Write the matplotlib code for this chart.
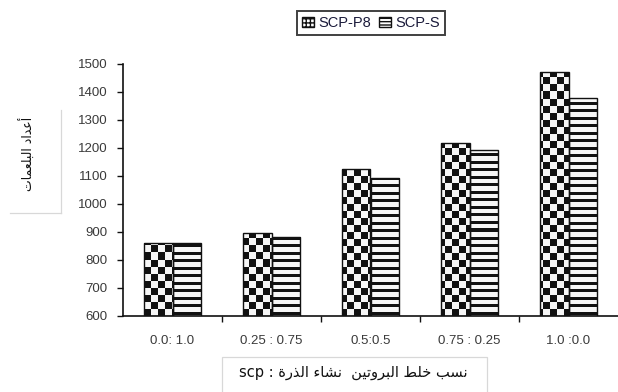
import numpy as np
import matplotlib
matplotlib.use("Agg")
import matplotlib.pyplot as plt
from matplotlib.colors import ListedColormap
from matplotlib.patches import Patch, Rectangle
from matplotlib.lines import Line2D

# ---------------- data ----------------
categories = ['0.0: 1.0', '0.25 : 0.75', '0.5:0.5', '0.75 : 0.25', '1.0 :0.0']
scp_p8 = [862, 897, 1125, 1217, 1473]
scp_s = [860, 881, 1092, 1193, 1378]
series_names = ['SCP-P8', 'SCP-S']
y_ticks = [600, 700, 800, 900, 1000, 1100, 1200, 1300, 1400, 1500]
y_label_ar = 'أعداد البلعمات'
x_label_ar = 'نسب خلط البروتين  نشاء الذرة'
x_label_latin = 'scp'

# ---------------- minimal Arabic shaping (presentation forms) ----------------
FORMS = {
    'ء': ('\uFE80', None, None, None),
    'أ': ('\uFE83', '\uFE84', None, None),
    'ا': ('\uFE8D', '\uFE8E', None, None),
    'ب': ('\uFE8F', '\uFE90', '\uFE91', '\uFE92'),
    'ة': ('\uFE93', '\uFE94', None, None),
    'ت': ('\uFE95', '\uFE96', '\uFE97', '\uFE98'),
    'خ': ('\uFEA5', '\uFEA6', '\uFEA7', '\uFEA8'),
    'د': ('\uFEA9', '\uFEAA', None, None),
    'ذ': ('\uFEAB', '\uFEAC', None, None),
    'ر': ('\uFEAD', '\uFEAE', None, None),
    'س': ('\uFEB1', '\uFEB2', '\uFEB3', '\uFEB4'),
    'ش': ('\uFEB5', '\uFEB6', '\uFEB7', '\uFEB8'),
    'ط': ('\uFEC1', '\uFEC2', '\uFEC3', '\uFEC4'),
    'ع': ('\uFEC9', '\uFECA', '\uFECB', '\uFECC'),
    'ل': ('\uFEDD', '\uFEDE', '\uFEDF', '\uFEE0'),
    'م': ('\uFEE1', '\uFEE2', '\uFEE3', '\uFEE4'),
    'ن': ('\uFEE5', '\uFEE6', '\uFEE7', '\uFEE8'),
    'و': ('\uFEED', '\uFEEE', None, None),
    'ي': ('\uFEF1', '\uFEF2', '\uFEF3', '\uFEF4'),
}


def shape_rtl(text):
    out = []
    n = len(text)
    for i, ch in enumerate(text):
        if ch not in FORMS:
            out.append(ch)
            continue
        f = FORMS[ch]
        prev = text[i - 1] if i > 0 else None
        nxt = text[i + 1] if i < n - 1 else None
        jp = prev in FORMS and FORMS[prev][2] is not None and f[1] is not None
        jn = f[2] is not None and nxt in FORMS and FORMS[nxt][1] is not None
        if jp and jn:
            out.append(f[3])
        elif jp:
            out.append(f[1])
        elif jn:
            out.append(f[2])
        else:
            out.append(f[0])
    return ''.join(out)[::-1]


# ---------------- figure ----------------
W, H = 618, 392
fig = plt.figure(figsize=(W / 100, H / 100), dpi=100)
ax_l, ax_r, ax_t, ax_b = 123, 618, 64, 316
ax = fig.add_axes([ax_l / W, 1 - ax_b / H, (ax_r - ax_l) / W, (ax_b - ax_t) / H])

tick_font = 'Liberation Sans'
x = np.arange(len(categories))
bw = 0.29
ymin, ymax = y_ticks[0], y_ticks[-1]
xlo, xhi = -0.5, len(categories) - 0.5

pw, ph = ax_r - ax_l, ax_b - ax_t
rr, cc = np.mgrid[0:ph, 0:pw]
checker = (((rr // 7) + (cc // 7)) % 2).astype(float)
stripes = ((rr % 7.5) >= 3).astype(float)
cmap = ListedColormap(['#111111', '#f6f6f6'])

bars1 = ax.bar(x - bw / 2, np.array(scp_p8) - ymin, bw, bottom=ymin,
               facecolor='none', edgecolor='#111111', linewidth=1.0, zorder=3)
bars2 = ax.bar(x + bw / 2, np.array(scp_s) - ymin, bw, bottom=ymin,
               facecolor='none', edgecolor='#111111', linewidth=1.0, zorder=3)
for bars, pat in ((bars1, checker), (bars2, stripes)):
    for b in bars:
        im = ax.imshow(pat, cmap=cmap, vmin=0, vmax=1, extent=(xlo, xhi, ymin, ymax),
                       aspect='auto', interpolation='nearest', zorder=2)
        im.set_clip_path(b)

ax.set_xlim(xlo, xhi)
ax.set_ylim(ymin, ymax)
ax.spines['top'].set_visible(False)
ax.spines['right'].set_visible(False)
for s in ('left', 'bottom'):
    ax.spines[s].set_linewidth(1.2)
    ax.spines[s].set_color('#111111')

lab_col = '#3a3a3a'
ax.set_yticks(y_ticks)
ax.set_yticklabels([str(v) for v in y_ticks], fontfamily=tick_font, fontsize=9.5,
                   color=lab_col)
ax.tick_params(axis='y', length=4, width=1, pad=7, colors='#111111', labelcolor=lab_col)

ax.set_xticks(x)
ax.set_xticklabels(categories, fontfamily=tick_font, fontsize=9.5, color=lab_col)
ax.set_xticks(np.arange(0.5, len(categories) - 0.5, 1), minor=True)
ax.tick_params(axis='x', which='major', length=0, pad=14, labelcolor=lab_col)
ax.tick_params(axis='x', which='minor', length=4, width=1, colors='#111111')

# legend
handles = [Patch(facecolor='white', edgecolor='#111111', hatch='++++', label=series_names[0]),
           Patch(facecolor='white', edgecolor='#111111', hatch='-----', label=series_names[1])]
leg = fig.legend(handles=handles, loc='center', bbox_to_anchor=(371 / W, 1 - 23 / H),
                 ncol=2, frameon=True, fancybox=False, handlelength=0.8,
                 handleheight=0.7, handletextpad=0.3, columnspacing=0.6,
                 borderpad=0.35, prop={'family': tick_font, 'size': 10.5})
for t in leg.get_texts():
    t.set_color('#1a1a3a')
leg.get_frame().set_edgecolor('#111111')
leg.get_frame().set_linewidth(1.4)

# y label with partial box
fig.text(28 / W, 1 - 154 / H, shape_rtl(y_label_ar), rotation=90, ha='center',
         va='center', fontfamily='DejaVu Sans', fontsize=9, color='#111111')
fig.add_artist(Line2D([61 / W, 61 / W], [1 - 110 / H, 1 - 213 / H], color='#d8d8d8', lw=0.9))
fig.add_artist(Line2D([10 / W, 61 / W], [1 - 213 / H, 1 - 213 / H], color='#d8d8d8', lw=0.9))

# x label with box
fig.add_artist(Rectangle((222 / W, -0.02), (487 - 222) / W, 0.02 + (392 - 357) / H,
                         transform=fig.transFigure, facecolor='none',
                         edgecolor='#d8d8d8', lw=0.9))
fig.text(353 / W, 1 - 372 / H, x_label_latin + ' : ' + shape_rtl(x_label_ar),
         ha='center', va='center', fontfamily='DejaVu Sans', fontsize=10.5,
         color='#111111')

fig.savefig('out.png', dpi=100)
